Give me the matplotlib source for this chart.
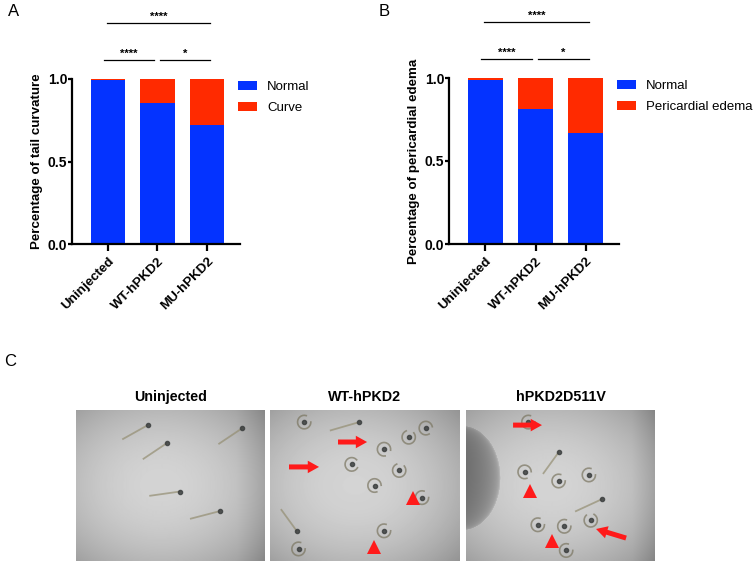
"""Zebrafish hPKD2 injection phenotypes: stacked bars (A, B) and photo panel (C)."""

import matplotlib

matplotlib.use("Agg")
import matplotlib.pyplot as plt
import numpy as np

plt.rcParams["font.family"] = ["Liberation Sans", "DejaVu Sans"]

BLUE = "#0433FF"
RED = "#FF2A00"

groups = ["Uninjected", "WT-hPKD2", "MU-hPKD2"]

# panel A: tail curvature
tail_normal = [0.992, 0.852, 0.722]
tail_curve = [0.008, 0.148, 0.278]

# panel B: pericardial edema
edema_normal = [0.986, 0.813, 0.669]
edema_pe = [0.014, 0.187, 0.331]

# pairwise comparisons (group i, group j, label)
comparisons = [(0, 2, "****"), (0, 1, "****"), (1, 2, "*")]

photo_titles = ["Uninjected", "WT-hPKD2", "hPKD2D511V"]


def stacked_panel(ax, normal, abnormal, ylabel, abnormal_label):
    x = np.arange(len(groups))
    ax.bar(x, normal, width=0.69, color=BLUE, label="Normal")
    ax.bar(x, abnormal, width=0.69, bottom=normal, color=RED, label=abnormal_label)
    ax.set_xlim(-0.727, 2.667)
    ax.set_ylim(0, 1)
    ax.set_yticks([0, 0.5, 1.0])
    ax.set_yticklabels(["0.0", "0.5", "1.0"], fontsize=10, fontweight="bold")
    ax.set_xticks(x)
    ax.set_xticklabels(groups, rotation=45, ha="right", rotation_mode="anchor",
                       fontsize=9.6, fontweight="bold")
    ax.set_ylabel(ylabel, fontsize=9.6, fontweight="bold", labelpad=3)
    for side in ("top", "right"):
        ax.spines[side].set_visible(False)
    for side in ("left", "bottom"):
        ax.spines[side].set_linewidth(1.6)
    ax.tick_params(axis="y", width=1.6, length=3, pad=0.5)
    ax.tick_params(axis="x", width=1.6, length=5, pad=3)

    # significance bars above the plot
    for i, j, label in comparisons:
        if j - i == 2:
            y, x0, x1 = 1.34, i - 0.02, j + 0.06
        elif i == 0:
            y, x0, x1 = 1.115, i - 0.08, j - 0.07
        else:
            y, x0, x1 = 1.115, i + 0.05, j + 0.06
        ax.plot([x0, x1], [y, y], color="black", lw=0.9, clip_on=False)
        ax.text((x0 + x1) / 2, y + 0.005, label, ha="center", va="bottom",
                fontsize=8, fontweight="bold")

    ax.legend(loc="upper left", bbox_to_anchor=(0.95, 1.03), frameon=False,
              fontsize=9.5, handlelength=1.45, handleheight=0.72,
              handletextpad=0.75, labelspacing=0.65, borderpad=0)


fig = plt.figure(figsize=(7.54, 5.67), dpi=100)
W, H = 754, 567


def px_axes(x0, y0, x1, y1):
    return fig.add_axes([x0 / W, 1 - y1 / H, (x1 - x0) / W, (y1 - y0) / H])


ax_a = px_axes(72, 79, 240, 244)
stacked_panel(ax_a, tail_normal, tail_curve, "Percentage of tail curvature", "Curve")

ax_b = px_axes(449, 78, 619, 244)
stacked_panel(ax_b, edema_normal, edema_pe, "Percentage of pericardial edema",
              "Pericardial edema")

fig.text(8 / W, 1 - 11 / H, "A", fontsize=12, va="center")
fig.text(379 / W, 1 - 11 / H, "B", fontsize=12, va="center")
fig.text(4 / W, 1 - 362 / H, "C", fontsize=12, va="center")

# panel C: placeholder renderings of the dish photographs
photo_boxes = [(76, 410, 265, 561), (270, 410, 460, 561), (466, 410, 655, 561)]

# fish: (x, y, angle in degrees, curled) in photo fractions
fish = [
    [(0.38, 0.10, 35, False), (0.48, 0.22, 40, False), (0.88, 0.12, 40, False),
     (0.55, 0.54, 10, False), (0.76, 0.67, 18, False)],
    [(0.18, 0.08, 0, True), (0.47, 0.08, 20, False), (0.73, 0.18, -40, True),
     (0.82, 0.12, 60, True), (0.60, 0.26, 80, True), (0.43, 0.36, 30, True),
     (0.68, 0.40, -40, True), (0.55, 0.50, 70, True), (0.80, 0.58, 0, True),
     (0.14, 0.80, -60, False), (0.15, 0.92, 0, True), (0.60, 0.80, 0, True)],
    [(0.33, 0.08, 0, True), (0.49, 0.28, 60, False), (0.31, 0.41, 70, True),
     (0.49, 0.47, 0, True), (0.65, 0.43, 0, True), (0.72, 0.59, 30, False),
     (0.38, 0.76, 0, True), (0.52, 0.77, 0, True), (0.66, 0.73, -60, True),
     (0.53, 0.93, 0, True)],
]

arrows = [
    [],
    [((0.358, 0.212), (0.511, 0.212)), ((0.10, 0.377), (0.258, 0.377))],
    [((0.249, 0.10), (0.402, 0.10)), ((0.847, 0.848), (0.688, 0.788))],
]
triangles = [
    [],
    [(0.753, 0.585), (0.547, 0.905)],
    [(0.34, 0.535), (0.455, 0.87)],
]

yy, xx = np.mgrid[0:1:151j, 0:1:190j]
for k, (box, title) in enumerate(zip(photo_boxes, photo_titles)):
    ax = px_axes(*box)
    r2 = (xx - 0.45) ** 2 + (yy - 0.5) ** 2
    img = 0.83 - 0.45 * r2
    if k == 0:
        img = img - 0.35 * np.clip(xx - 0.85, 0, None)
    if k == 2:
        dish = (xx + 0.02) ** 2 / 0.04 + (yy - 0.45) ** 2 / 0.12
        img = np.where(dish < 1, img - 0.3 * (1 - dish) ** 0.3, img)
        img = img - 0.5 * np.clip(xx - 0.88, 0, None)
    ax.imshow(img, cmap="gray", vmin=0, vmax=1, extent=(0, 1, 1, 0),
              aspect="auto", interpolation="bilinear")
    ax.set_xlim(0, 1)
    ax.set_ylim(1, 0)
    ax.set_xticks([])
    ax.set_yticks([])
    for s in ax.spines.values():
        s.set_visible(False)

    for fx, fy, ang, curled in fish[k]:
        a = np.deg2rad(ang)
        if curled:
            t = np.linspace(0, 1.6 * np.pi, 20)
            ax.plot(fx + 0.035 * np.cos(t + a), fy + 0.045 * np.sin(t + a),
                    color="#7a7560", lw=1.2, alpha=0.7)
        else:
            ax.plot([fx, fx - 0.16 * np.cos(a)], [fy, fy + 0.16 * np.sin(a)],
                    color="#948e72", lw=1.3, alpha=0.7)
        ax.plot(fx, fy, "o", color="#3d4040", ms=3, alpha=0.85)

    for tail, head in arrows[k]:
        ax.annotate("", xy=head, xytext=tail,
                    arrowprops=dict(arrowstyle="simple,head_length=0.9,head_width=1.0,"
                                    "tail_width=0.4", color="#FF1A1A", lw=0,
                                    mutation_scale=9, shrinkA=0, shrinkB=0))
    for tx, ty in triangles[k]:
        ax.plot(tx, ty, "^", color="#FF1A1A", ms=10, mew=0)

    fig.text((box[0] + box[2]) / 2 / W, 1 - 397 / H, title, ha="center",
             va="center", fontsize=10.3, fontweight="bold")

fig.savefig("out.png", dpi=100)
